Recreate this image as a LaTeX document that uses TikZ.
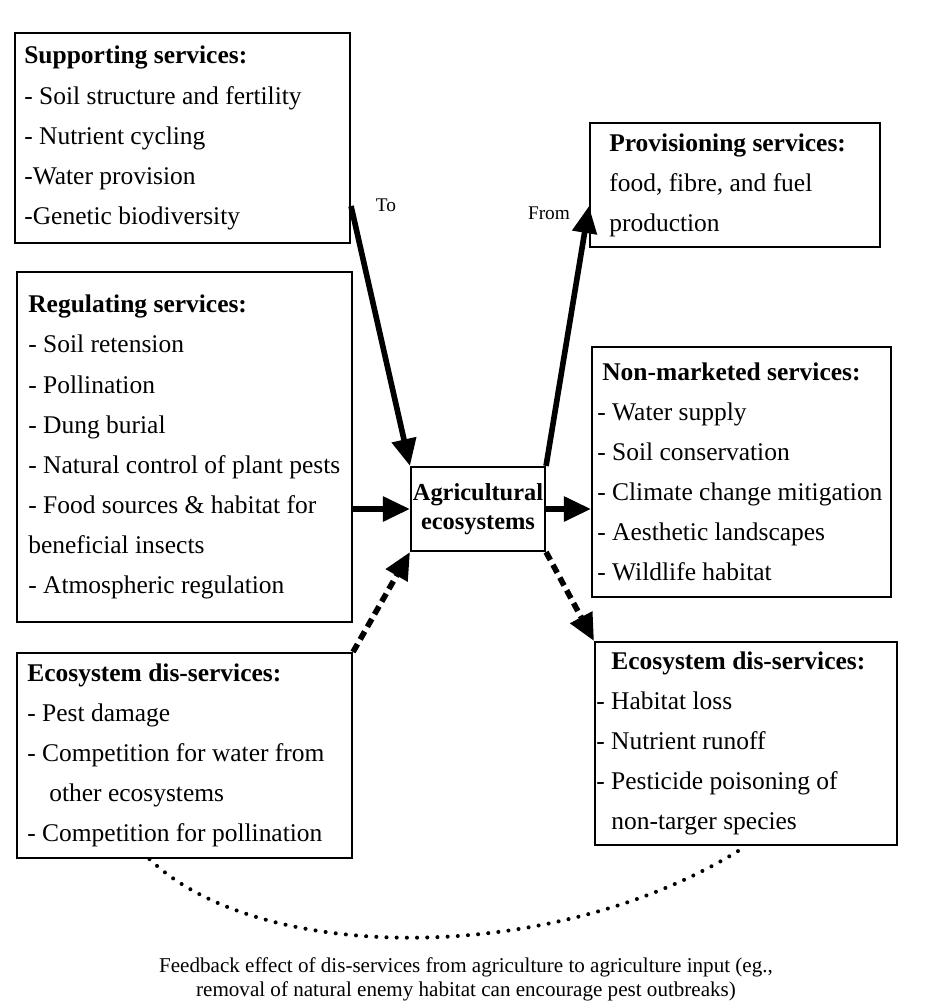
\documentclass[tikz,border=0pt]{standalone}
\usepackage{fontspec}
\setmainfont{Liberation Serif}
\usetikzlibrary{arrows.meta}

\begin{document}
\begin{tikzpicture}[x=0.02cm,y=-0.02cm,
    box/.style={draw,line width=1.2pt,inner sep=0pt},
    boxtext/.style={anchor=west,align=left,inner sep=0pt,font=\fontsize{14.5}{22.8}\selectfont},
    flow/.style={line width=3.2pt,-{Triangle[length=0.54cm,width=0.48cm]}},
    disflow/.style={flow,dash pattern=on 0.18cm off 0.11cm}]
        \useasboundingbox (0,0) rectangle (930,1008);
        % boxes on the left
        \node[box,minimum width=6.7cm,minimum height=4.2cm] (sup) at (182.5,138) {};
        \node[boxtext] at ([xshift=0.2cm]sup.west) {\textbf{Supporting services:}\\- Soil structure and fertility\\- Nutrient cycling\\-Water provision\\-Genetic biodiversity};
        \node[box,minimum width=6.7cm,minimum height=7cm] (reg) at (184.5,447) {};
        \node[boxtext] at ([xshift=0.24cm]reg.west) {\textbf{Regulating services:}\\- Soil retension\\- Pollination\\- Dung burial\\- Natural control of plant pests\\- Food sources \& habitat for\\beneficial insects\\- Atmospheric regulation};
        \node[box,minimum width=6.7cm,minimum height=4.1cm] (disL) at (184.5,755.5) {};
        \node[boxtext] at ([xshift=0.22cm]disL.west) {\textbf{Ecosystem dis-services:}\\- Pest damage\\- Competition for water from\\\hspace*{0.44cm}other ecosystems\\- Competition for pollination};
        % centre
        \node[box,minimum width=2.68cm,minimum height=1.68cm,align=center,font=\bfseries\fontsize{13.9}{16.5}\selectfont] (agri) at (478,509) {Agricultural\\ecosystems};
        % boxes on the right
        \node[box,minimum width=5.8cm,minimum height=2.48cm] (prov) at (735,185) {};
        \node[boxtext] at ([xshift=0.4cm]prov.west) {\textbf{Provisioning services:}\\food, fibre, and fuel\\production};
        \node[box,minimum width=5.98cm,minimum height=5cm] (nonmkt) at (741.5,472) {};
        \node[boxtext] at ([xshift=0.12cm]nonmkt.west) {\hspace*{0.1cm}\textbf{Non-marketed services:}\\- Water supply\\- Soil conservation\\- Climate change mitigation\\- Aesthetic landscapes\\- Wildlife habitat};
        \node[box,minimum width=6.04cm,minimum height=4.06cm] (disR) at (746,743.5) {};
        \node[boxtext] at ([xshift=0.04cm]disR.west) {\hspace*{0.3cm}\textbf{Ecosystem dis-services:}\\- Habitat loss\\- Nutrient runoff\\- Pesticide poisoning of\\\hspace*{0.3cm}non-targer species};
        % arrows
        \draw[flow] ([yshift=0.76cm]sup.south east) -- (agri.north west);
        \node[font=\fontsize{11}{12}\selectfont] (to) at (386,205) {To};
        \draw[flow] (agri.north east) -- ([yshift=0.84cm]prov.south west);
        \node[font=\fontsize{11}{12}\selectfont] (from) at (549,213) {From};
        \draw[flow] (reg.east |- agri.west) -- (agri.west);
        \draw[flow] (agri.east) -- (nonmkt.west |- agri.east);
        \draw[disflow] (disL.north east) -- (agri.south west);
        \draw[disflow] (agri.south east) -- (disR.north west);
        % feedback loop
        \draw[line width=2.3pt,line cap=round,dash pattern=on 0pt off 5.8pt] ([xshift=-0.7cm]disL.south) .. controls (260,966) and (560,966) .. (disR.south);
        \node[align=center,font=\fontsize{12}{13.5}\selectfont] (fb) at (466,979) {Feedback effect of dis-services from agriculture to agriculture input (eg.,\\removal of natural enemy habitat can encourage pest outbreaks)};
\end{tikzpicture}
\end{document}
